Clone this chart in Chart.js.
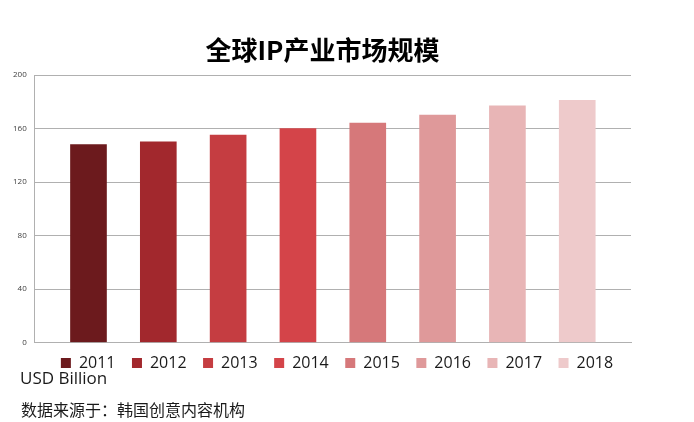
<!DOCTYPE html>
<html><head><meta charset="utf-8">
<script src="https://cdn.jsdelivr.net/npm/chart.js@4"></script>
<style>
html,body{margin:0;padding:0;background:#fff;}
#wrap{position:relative;width:694px;height:422px;overflow:hidden;}
#title{position:absolute;left:0;top:30px;width:645px;text-align:center;font:bold 26px "Noto Sans CJK SC","Noto Sans",sans-serif;color:#000;}
.note{position:absolute;font-size:17px;font-family:"Open Sans","Noto Sans CJK SC",sans-serif;color:#1a1a1a;white-space:nowrap;}
</style></head>
<body><div id="wrap">
<canvas id="c" width="694" height="422"></canvas>
<div id="title">全球IP产业市场规模</div>
<div class="note" style="left:20px;top:366px;">USD Billion</div>
<div class="note" style="left:21px;top:397px;font-size:16px;font-family:'Noto Sans CJK SC',sans-serif;">数据来源于：韩国创意内容机构</div>
</div>
<script>
const years = ['2011','2012','2013','2014','2015','2016','2017','2018'];
const values = [148,150,155,160,164,170,177,181];
const colors = ['#6C1A1D','#A2282D','#C53D41','#D44449','#D6787A','#DF999A','#E8B5B6','#EECACB'];
const yTicks = [0,40,80,120,160,200];

const datasets = years.map((y,i)=>({
  label: y,
  data: [{x:i, y:values[i]}],
  backgroundColor: colors[i],
  borderWidth: 0,
  barThickness: 36,
  grouped: false
}));

const legendShift = {
  id: 'legendShift',
  afterLayout(chart) {
    const l = chart.legend;
    if (!l) return;
    l.top -= 12; l.bottom -= 12;
    l.left += 19; l.right += 19;
  }
};

new Chart(document.getElementById('c'), {
  type: 'bar',
  data: { datasets },
  options: {
    responsive: false,
    animation: false,
    layout: { padding: { left: 5, right: 63, top: 75, bottom: 29 } },
    plugins: {
      legend: {
        position: 'bottom',
        labels: {
          boxWidth: 10, boxHeight: 10, padding: 16.5,
          color: '#1a1a1a',
          font: { size: 16, family: '"Open Sans", sans-serif' }
        }
      },
      tooltip: { enabled: false }
    },
    scales: {
      x: {
        type: 'linear', min: -0.77, max: 7.77, offset: false,
        ticks: { display: false },
        grid: { display: false, offset: false },
        border: { display: true, color: '#b0b0b0', width: 1 }
      },
      y: {
        min: 0, max: 200,
        afterBuildTicks: (s)=>{ s.ticks = yTicks.map(v=>({value:v})); },
        ticks: { color: '#404040', font: { size: 8, family: '"Open Sans", sans-serif' }, padding: 8 },
        grid: { color: '#b0b0b0', drawTicks: false },
        border: { display: true, color: '#b0b0b0' }
      }
    }
  },
  plugins: [legendShift]
});
</script>
</body></html>
